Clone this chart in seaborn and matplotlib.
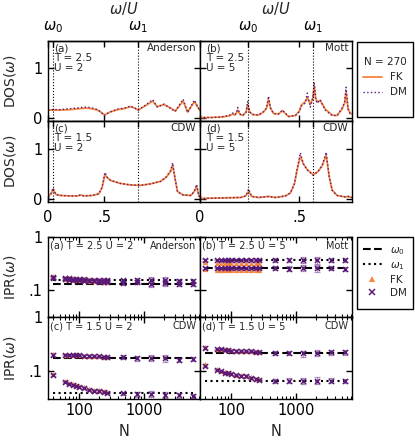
import matplotlib
matplotlib.use('Agg')
import matplotlib.pyplot as plt
from matplotlib.lines import Line2D
from matplotlib.patches import Rectangle
from matplotlib.ticker import NullLocator, NullFormatter
import seaborn as sns
import pandas as pd

# ---------------- DOS data (omega/U, DOS) ----------------
a_w = [0.0, 0.05, 0.11, 0.2, 0.29, 0.34, 0.38, 0.44, 0.47, 0.5, 0.55, 0.62, 0.68, 0.73, 0.77, 0.8,
       0.86, 0.93, 0.97, 1.03, 1.09, 1.13, 1.2, 1.24, 1.3, 1.35]
a_fk = [0.16, 0.16, 0.16, 0.17, 0.19, 0.2, 0.19, 0.16, 0.12, 0.06, 0.12, 0.17, 0.19, 0.23, 0.2, 0.16,
        0.24, 0.34, 0.23, 0.27, 0.2, 0.14, 0.34, 0.12, 0.33, 0.15]
a_dm = [0.16, 0.17, 0.17, 0.19, 0.21, 0.22, 0.21, 0.17, 0.12, 0.05, 0.12, 0.18, 0.2, 0.24, 0.2, 0.16,
        0.25, 0.37, 0.22, 0.28, 0.19, 0.13, 0.38, 0.11, 0.36, 0.14]

b_w = [0.0, 0.055, 0.105, 0.145, 0.165, 0.175, 0.183, 0.19, 0.2, 0.215, 0.232, 0.24, 0.25, 0.265,
       0.295, 0.32, 0.335, 0.345, 0.355, 0.37, 0.395, 0.415, 0.445, 0.48, 0.5, 0.51, 0.53, 0.54,
       0.555, 0.568, 0.575, 0.582, 0.59, 0.605, 0.63, 0.665, 0.69, 0.715, 0.728, 0.735, 0.745,
       0.755, 0.765]
b_fk = [0.01, 0.01, 0.02, 0.04, 0.08, 0.06, 0.1, 0.16, 0.08, 0.05, 0.12, 0.27, 0.12, 0.07,
        0.06, 0.12, 0.2, 0.37, 0.2, 0.09, 0.08, 0.15, 0.03, 0.05, 0.14, 0.26, 0.33, 0.41,
        0.28, 0.4, 0.64, 0.4, 0.32, 0.35, 0.18, 0.06, 0.05, 0.18, 0.3, 0.53, 0.2, 0.1, 0.08]
b_dm = [0.01, 0.01, 0.02, 0.05, 0.1, 0.06, 0.1, 0.21, 0.08, 0.05, 0.12, 0.33, 0.12, 0.07,
        0.06, 0.13, 0.2, 0.44, 0.2, 0.09, 0.08, 0.16, 0.03, 0.05, 0.13, 0.24, 0.3, 0.5,
        0.22, 0.4, 0.72, 0.38, 0.3, 0.37, 0.16, 0.05, 0.05, 0.2, 0.32, 0.62, 0.18, 0.09, 0.08]

c_w = [0.0, 0.027, 0.045, 0.07, 0.11, 0.2, 0.26, 0.29, 0.32, 0.39, 0.45, 0.48, 0.505, 0.527,
       0.555, 0.64, 0.73, 0.82, 0.91, 1.0, 1.05, 1.09, 1.107, 1.125, 1.15, 1.2, 1.27, 1.3,
       1.32, 1.34, 1.35]
c_fk = [0.05, 0.1, 0.19, 0.09, 0.07, 0.06, 0.06, 0.08, 0.06, 0.07, 0.1, 0.22, 0.48, 0.42,
        0.37, 0.31, 0.28, 0.27, 0.3, 0.35, 0.43, 0.55, 0.67, 0.45, 0.15, 0.08, 0.07, 0.15,
        0.25, 0.06, 0.05]
c_dm = [0.05, 0.11, 0.22, 0.09, 0.07, 0.06, 0.06, 0.08, 0.06, 0.07, 0.1, 0.23, 0.53, 0.43,
        0.37, 0.31, 0.28, 0.27, 0.3, 0.35, 0.44, 0.57, 0.72, 0.45, 0.14, 0.08, 0.07, 0.16,
        0.29, 0.06, 0.05]

d_w = [0.0, 0.105, 0.205, 0.23, 0.245, 0.26, 0.295, 0.345, 0.38, 0.43, 0.455, 0.475, 0.49,
       0.505, 0.52, 0.54, 0.57, 0.595, 0.615, 0.635, 0.65, 0.665, 0.69, 0.73, 0.745, 0.765]
d_fk = [0.01, 0.02, 0.03, 0.06, 0.15, 0.05, 0.03, 0.05, 0.03, 0.06, 0.12, 0.3, 0.6,
        0.85, 0.7, 0.58, 0.48, 0.55, 0.66, 0.87, 0.45, 0.18, 0.07, 0.04, 0.05, 0.03]
d_dm = [0.01, 0.02, 0.03, 0.06, 0.2, 0.05, 0.03, 0.05, 0.03, 0.06, 0.12, 0.3, 0.62,
        0.92, 0.7, 0.58, 0.47, 0.55, 0.67, 0.93, 0.45, 0.17, 0.07, 0.04, 0.05, 0.03]

omega_left = [0.045, 0.80]    # omega_0, omega_1 for U = 2
omega_right = [0.243, 0.57]   # omega_0, omega_1 for U = 5
xmax_left, xmax_right = 1.35, 0.765

# ---------------- IPR data ----------------
N_small = [40, 60, 70, 80, 90, 100, 120, 140, 170, 200, 240, 270]
N_large = [470, 770, 1270, 2070, 3470, 5550]
N_all = N_small + N_large
err_rel = [0.05, 0.03, 0.03, 0.03, 0.03, 0.03, 0.03, 0.03, 0.03, 0.03, 0.04, 0.04,
           0.08, 0.1, 0.13, 0.14, 0.1, 0.09]

# (a) T=2.5 U=2
ipr_a_dm0 = [0.165, 0.16, 0.155, 0.155, 0.15, 0.15, 0.148, 0.145, 0.145, 0.14, 0.14, 0.14,
             0.135, 0.14, 0.13, 0.135, 0.13, 0.13]
ipr_a_dm1 = [0.17, 0.165, 0.165, 0.16, 0.16, 0.16, 0.158, 0.155, 0.155, 0.155, 0.15, 0.15,
             0.15, 0.15, 0.155, 0.15, 0.145, 0.145]
ipr_a_fk0 = [0.175, 0.16, 0.16, 0.155, 0.155, 0.15, 0.15, 0.148, 0.145, 0.145, 0.14, 0.14]
ipr_a_fk1 = [0.18, 0.168, 0.165, 0.165, 0.16, 0.16, 0.16, 0.158, 0.155, 0.155, 0.152, 0.15]
fit_a = [0.127, 0.152]
# (b) T=2.5 U=5
ipr_b_dm0 = [0.26, 0.26, 0.255, 0.26, 0.255, 0.26, 0.255, 0.26, 0.255, 0.26, 0.255, 0.26,
             0.255, 0.25, 0.255, 0.255, 0.26, 0.25]
ipr_b_dm1 = [0.37, 0.37, 0.365, 0.37, 0.37, 0.365, 0.37, 0.365, 0.37, 0.37, 0.365, 0.37,
             0.37, 0.365, 0.37, 0.36, 0.37, 0.365]
ipr_b_fk0 = [0.245, 0.24, 0.24, 0.235, 0.24, 0.235, 0.24, 0.235, 0.24, 0.235, 0.24, 0.24]
ipr_b_fk1 = [0.33, 0.32, 0.32, 0.315, 0.32, 0.315, 0.32, 0.315, 0.32, 0.315, 0.32, 0.32]
fit_b = [0.257, 0.365]
# (c) T=1.5 U=2
ipr_c_dm0 = [0.2, 0.2, 0.2, 0.2, 0.195, 0.195, 0.19, 0.19, 0.185, 0.185, 0.18, 0.18,
             0.18, 0.17, 0.175, 0.17, 0.16, 0.165]
ipr_c_dm1 = [0.085, 0.063, 0.057, 0.055, 0.052, 0.05, 0.048, 0.045, 0.043, 0.042, 0.04, 0.039,
             0.038, 0.037, 0.037, 0.036, 0.035, 0.034]
ipr_c_fk0 = [0.205, 0.2, 0.2, 0.198, 0.195, 0.195, 0.19, 0.19, 0.188, 0.185, 0.18, 0.18]
ipr_c_fk1 = [0.088, 0.066, 0.06, 0.057, 0.054, 0.052, 0.05, 0.047, 0.045, 0.044, 0.042, 0.04]
fit_c = [0.173, 0.038]
# (d) T=1.5 U=5
ipr_d_dm0 = [0.27, 0.25, 0.25, 0.245, 0.24, 0.235, 0.235, 0.23, 0.23, 0.23, 0.225, 0.22,
             0.215, 0.215, 0.21, 0.215, 0.22, 0.22]
ipr_d_dm1 = [0.125, 0.105, 0.098, 0.093, 0.09, 0.088, 0.083, 0.08, 0.08, 0.075, 0.07, 0.068,
             0.066, 0.066, 0.065, 0.066, 0.066, 0.064]
ipr_d_fk0 = [0.28, 0.255, 0.25, 0.25, 0.245, 0.24, 0.235, 0.235, 0.23, 0.23, 0.225, 0.225]
ipr_d_fk1 = [0.135, 0.11, 0.1, 0.096, 0.092, 0.09, 0.085, 0.082, 0.08, 0.077, 0.072, 0.07]
fit_d = [0.21, 0.066]

FK_COLOR = '#f7843f'
DM_COLOR = '#5a1a78'

sns.set_style('ticks')
plt.rcParams.update({
    'font.family': ['DejaVu Sans'],
    'font.size': 10.5,
    'axes.linewidth': 1.0,
    'axes.edgecolor': 'black',
    'xtick.direction': 'in', 'ytick.direction': 'in',
    'xtick.top': True, 'ytick.right': True,
    'xtick.major.size': 4, 'ytick.major.size': 4,
    'xtick.minor.size': 2.2, 'ytick.minor.size': 2.2,
    'xtick.major.width': 1.0, 'ytick.major.width': 1.0,
    'xtick.minor.width': 0.8,
    'xtick.color': 'black', 'ytick.color': 'black',
    'xtick.labelsize': 10.5, 'ytick.labelsize': 10.5,
    'axes.labelsize': 10,
})

W, H = 415, 442
fig = plt.figure(figsize=(W / 100, H / 100), dpi=100)


def box(x0, y0, x1, y1):
    return [x0 / W, 1 - y1 / H, (x1 - x0) / W, (y1 - y0) / H]


def frame(x0, y0, x1, y1):
    fig.patches.append(Rectangle((x0 / W, 1 - y1 / H), (x1 - x0) / W, (y1 - y0) / H,
                                 transform=fig.transFigure, fill=False,
                                 edgecolor='black', lw=1.0))


def draw_dos(ax, w, fk, dm, omegas, xmax, tag, phase, top_row, left_col):
    df = pd.DataFrame({'w': w, 'FK': fk, 'DM': dm})
    sns.lineplot(data=df, x='w', y='FK', ax=ax, color=FK_COLOR, lw=1.3)
    sns.lineplot(data=df, x='w', y='DM', ax=ax, color=DM_COLOR, lw=1.0, linestyle=':')
    for om in omegas:
        ax.axvline(om, color='k', ls=':', lw=0.8)
    ax.set_xlim(0, xmax)
    ax.set_ylim(-0.06, 1.55)
    ax.set_xticks([0, 0.5], labels=['0', '.5'])
    ax.set_yticks([0, 1], labels=['0', '1'])
    ax.tick_params(axis='x', pad=6, labelbottom=not top_row)
    ax.tick_params(axis='y', pad=4, labelleft=left_col)
    ax.set_xlabel('')
    ax.set_ylabel('DOS($\\omega$)' if left_col else '')
    ax.yaxis.set_label_coords(-0.2, 0.5)
    ax.text(0.04, 0.97, tag, transform=ax.transAxes, ha='left', va='top',
            fontsize=7.5, linespacing=1.0)
    ax.text(0.975, 0.97, phase, transform=ax.transAxes, ha='right', va='top', fontsize=7.5)
    sec = ax.secondary_xaxis('top')
    sec.set_xticks(omegas, labels=['$\\omega_0$', '$\\omega_1$'])
    sec.tick_params(direction='in', length=4, pad=4, labeltop=top_row)
    if top_row:
        sec.set_xlabel('$\\omega/U$', labelpad=4, fontsize=10.5)


def draw_ipr(ax, dm0, dm1, fk0, fk1, fit, tag, phase, bottom_row, left_col):
    ax.set_xscale('log')
    ax.set_yscale('log')
    ax.hlines(fit[0], N_all[0], N_all[-1], colors='k', linestyles='--', lw=1.5, zorder=1)
    ax.hlines(fit[1], N_all[0], N_all[-1], colors='k', linestyles=':', lw=1.5, zorder=1)
    for vals in (dm0, dm1):
        err = [v * e for v, e in zip(vals, err_rel)]
        ax.errorbar(N_all, vals, yerr=err, fmt='none', ecolor=DM_COLOR, alpha=0.45,
                    elinewidth=0.9, capsize=2, capthick=0.9, zorder=2)
    for vals in (fk0, fk1):
        sns.scatterplot(x=N_small, y=vals, ax=ax, marker='^', color=FK_COLOR, s=14,
                        linewidth=0, zorder=3)
    for vals in (dm0, dm1):
        sns.scatterplot(x=N_all, y=vals, ax=ax, marker='x', color=DM_COLOR, s=13,
                        linewidth=1.1, zorder=4)
    ax.set_xlim(33, 7200)
    ax.set_ylim(0.03, 1)
    ax.set_xticks([100, 1000], labels=['100', '1000'])
    ax.set_yticks([0.1, 1], labels=['.1', '1'])
    ax.yaxis.set_minor_locator(NullLocator())
    ax.yaxis.set_minor_formatter(NullFormatter())
    ax.xaxis.set_minor_formatter(NullFormatter())
    ax.tick_params(axis='x', which='both', pad=3, labelbottom=bottom_row, top=True)
    ax.tick_params(axis='y', pad=4, labelleft=left_col)
    ax.set_xlabel('N' if bottom_row else '', fontsize=10.5)
    ax.xaxis.set_label_coords(0.5, -0.3)
    ax.set_ylabel('IPR($\\omega$)' if left_col else '')
    ax.yaxis.set_label_coords(-0.2, 0.5)
    ax.text(0.015, 0.95, tag, transform=ax.transAxes, ha='left', va='top', fontsize=7)
    ax.text(0.975, 0.95, phase, transform=ax.transAxes, ha='right', va='top', fontsize=7)


ax_a = fig.add_axes(box(48, 41, 200, 121))
ax_b = fig.add_axes(box(200, 41, 352, 121))
ax_c = fig.add_axes(box(48, 121, 200, 202))
ax_d = fig.add_axes(box(200, 121, 352, 202))

draw_dos(ax_a, a_w, a_fk, a_dm, omega_left, xmax_left, '(a)\nT = 2.5\nU = 2', 'Anderson', True, True)
draw_dos(ax_b, b_w, b_fk, b_dm, omega_right, xmax_right, '(b)\nT = 2.5\nU = 5', 'Mott', True, False)
draw_dos(ax_c, c_w, c_fk, c_dm, omega_left, xmax_left, '(c)\nT = 1.5\nU = 2', 'CDW', False, True)
draw_dos(ax_d, d_w, d_fk, d_dm, omega_right, xmax_right, '(d)\nT = 1.5\nU = 5', 'CDW', False, False)

# legend for the DOS block
frame(357, 42, 413, 117)
dos_handles = [Line2D([], [], color=FK_COLOR, lw=1.3),
               Line2D([], [], color=DM_COLOR, lw=1.0, ls=':')]
fig.legend(dos_handles, ['FK', 'DM'], title='N = 270', loc='upper center',
           bbox_to_anchor=(385 / W, 1 - 57 / H), fontsize=7.5, title_fontsize=7.5,
           frameon=False, borderpad=0, labelspacing=0.5, handlelength=1.8,
           handletextpad=0.8, borderaxespad=0)

ip_a = fig.add_axes(box(48, 237, 200, 317))
ip_b = fig.add_axes(box(200, 237, 352, 317))
ip_c = fig.add_axes(box(48, 317, 200, 399))
ip_d = fig.add_axes(box(200, 317, 352, 399))

draw_ipr(ip_a, ipr_a_dm0, ipr_a_dm1, ipr_a_fk0, ipr_a_fk1, fit_a, '(a) T = 2.5 U = 2', 'Anderson', False, True)
draw_ipr(ip_b, ipr_b_dm0, ipr_b_dm1, ipr_b_fk0, ipr_b_fk1, fit_b, '(b) T = 2.5 U = 5', 'Mott', False, False)
draw_ipr(ip_c, ipr_c_dm0, ipr_c_dm1, ipr_c_fk0, ipr_c_fk1, fit_c, '(c) T = 1.5 U = 2', 'CDW', True, True)
draw_ipr(ip_d, ipr_d_dm0, ipr_d_dm1, ipr_d_fk0, ipr_d_fk1, fit_d, '(d) T = 1.5 U = 5', 'CDW', True, False)

# legend for the IPR block
frame(357, 237, 413, 309)
ipr_handles = [Line2D([], [], color='k', lw=1.5, ls='--'),
               Line2D([], [], color='k', lw=1.5, ls=':'),
               Line2D([], [], color=FK_COLOR, marker='^', ls='', ms=4, mew=0),
               Line2D([], [], color=DM_COLOR, marker='x', ls='', ms=4, mew=1.1)]
fig.legend(ipr_handles, ['$\\omega_0$', '$\\omega_1$', 'FK', 'DM'], loc='upper center',
           bbox_to_anchor=(385 / W, 1 - 245 / H), fontsize=7.5, frameon=False,
           borderpad=0, labelspacing=0.3, handlelength=1.8, handletextpad=0.8,
           borderaxespad=0)

fig.savefig('out.png', dpi=100)
